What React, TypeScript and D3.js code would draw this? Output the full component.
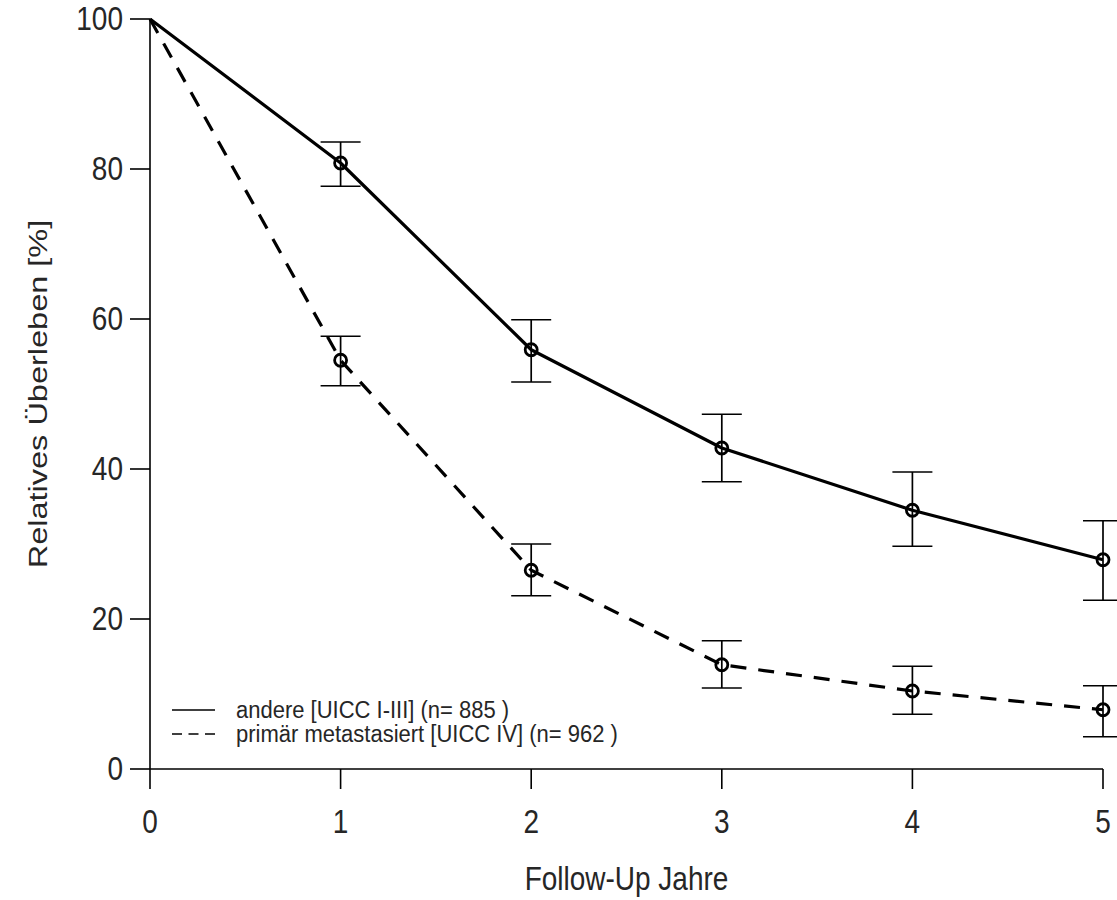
import React, { useEffect, useRef } from "react";
import * as d3 from "d3";

const years = [0, 1, 2, 3, 4, 5];
const xTicks = [0, 1, 2, 3, 4, 5];
const yTicks = [0, 20, 40, 60, 80, 100];

const solidValues = [100, 80.8, 55.9, 42.8, 34.5, 27.9];
const solidUpper = [100, 83.6, 59.9, 47.3, 39.6, 33.1];
const solidLower = [100, 77.7, 51.6, 38.3, 29.7, 22.5];

const dashedValues = [100, 54.5, 26.5, 13.9, 10.4, 7.9];
const dashedUpper = [100, 57.7, 30.0, 17.1, 13.7, 11.1];
const dashedLower = [100, 51.1, 23.1, 10.8, 7.3, 4.3];

const legendLabels = [
  "andere [UICC I-III] (n= 885 )",
  "primär metastasiert [UICC IV] (n= 962 )",
];

const xTitle = "Follow-Up Jahre";
const yTitle = "Relatives Überleben [%]";

const W = 1117;
const H = 900;
const FONT = "'Liberation Sans', Arial, sans-serif";

export default function App() {
  const ref = useRef<SVGSVGElement | null>(null);

  useEffect(() => {
    const svg = d3.select(ref.current);
    svg.selectAll("*").remove();

    const x = d3.scaleLinear().domain([0, 5]).range([150, 1103]);
    const y = d3.scaleLinear().domain([0, 100]).range([769, 19]);

    svg.append("rect").attr("width", W).attr("height", H).attr("fill", "white");

    // axes
    const ax = svg.append("g").attr("stroke", "#000").attr("stroke-width", 1.6);
    ax.append("line").attr("x1", x(0)).attr("x2", x(5)).attr("y1", y(0)).attr("y2", y(0));
    ax.append("line").attr("x1", x(0)).attr("x2", x(0)).attr("y1", y(0)).attr("y2", y(100));
    xTicks.forEach((t) => {
      ax.append("line").attr("x1", x(t)).attr("x2", x(t)).attr("y1", y(0)).attr("y2", y(0) + 20);
    });
    yTicks.forEach((t) => {
      ax.append("line").attr("x1", x(0)).attr("x2", x(0) - 20).attr("y1", y(t)).attr("y2", y(t));
    });

    const txt = (
      s: string,
      tx: number,
      ty: number,
      anchor: string,
      size: number,
      sy: number,
      rot = 0
    ) => {
      const g = svg
        .append("g")
        .attr(
          "transform",
          `translate(${tx},${ty}) rotate(${rot}) scale(${rot ? sy : 1},${rot ? 1 : sy})`
        );
      g.append("text")
        .attr("text-anchor", anchor)
        .attr("dominant-baseline", "central")
        .attr("font-family", FONT)
        .attr("font-size", size)
        .attr("fill", "#262626")
        .text(s);
    };

    xTicks.forEach((t) => txt(String(t), x(t), 822, "middle", 28, 1.2));
    yTicks.forEach((t) => txt(String(t), 123, y(t), "end", 28, 1.2));
    txt(xTitle, (x(0) + x(5)) / 2, 879, "middle", 28, 1.2);
    txt(yTitle, 38, (y(0) + y(100)) / 2, "middle", 26, 1.25, -90);

    // error bars
    const drawErr = (up: number[], lo: number[]) => {
      const g = svg.append("g").attr("stroke", "#000").attr("stroke-width", 1.7);
      years.forEach((yr, i) => {
        if (i === 0) return;
        g.append("line").attr("x1", x(yr)).attr("x2", x(yr)).attr("y1", y(up[i])).attr("y2", y(lo[i]));
        g.append("line").attr("x1", x(yr) - 20).attr("x2", x(yr) + 20).attr("y1", y(up[i])).attr("y2", y(up[i]));
        g.append("line").attr("x1", x(yr) - 20).attr("x2", x(yr) + 20).attr("y1", y(lo[i])).attr("y2", y(lo[i]));
      });
    };
    drawErr(solidUpper, solidLower);
    drawErr(dashedUpper, dashedLower);

    const line = d3
      .line<number>()
      .x((_, i) => x(years[i]))
      .y((d) => y(d))
      .curve(d3.curveLinear);

    svg
      .append("path")
      .attr("d", line(solidValues))
      .attr("fill", "none")
      .attr("stroke", "#000")
      .attr("stroke-width", 3.2)
      .attr("stroke-linejoin", "round");
    svg
      .append("path")
      .attr("d", line(dashedValues))
      .attr("fill", "none")
      .attr("stroke", "#000")
      .attr("stroke-width", 3.2)
      .attr("stroke-dasharray", "16,12");

    const pts = (vals: number[]) => {
      svg
        .append("g")
        .selectAll("circle")
        .data(vals.slice(1))
        .join("circle")
        .attr("cx", (_, i) => x(years[i + 1]))
        .attr("cy", (d) => y(d))
        .attr("r", 6)
        .attr("fill", "none")
        .attr("stroke", "#000")
        .attr("stroke-width", 2.8);
    };
    pts(solidValues);
    pts(dashedValues);

    // legend
    const ly = [710, 734];
    const lg = svg.append("g");
    lg.append("line").attr("x1", 172).attr("x2", 215).attr("y1", ly[0]).attr("y2", ly[0]).attr("stroke", "#000").attr("stroke-width", 1.6);
    lg.append("line").attr("x1", 172).attr("x2", 215).attr("y1", ly[1]).attr("y2", ly[1]).attr("stroke", "#000").attr("stroke-width", 1.6).attr("stroke-dasharray", "10,6.5");
    legendLabels.forEach((l, i) => txt(l, 236, ly[i], "start", 22, 1.05));
  }, []);

  return (
    <svg
      ref={ref}
      width={W}
      height={H}
      style={{ position: "absolute", left: 0, top: 0, display: "block" }}
    />
  );
}
